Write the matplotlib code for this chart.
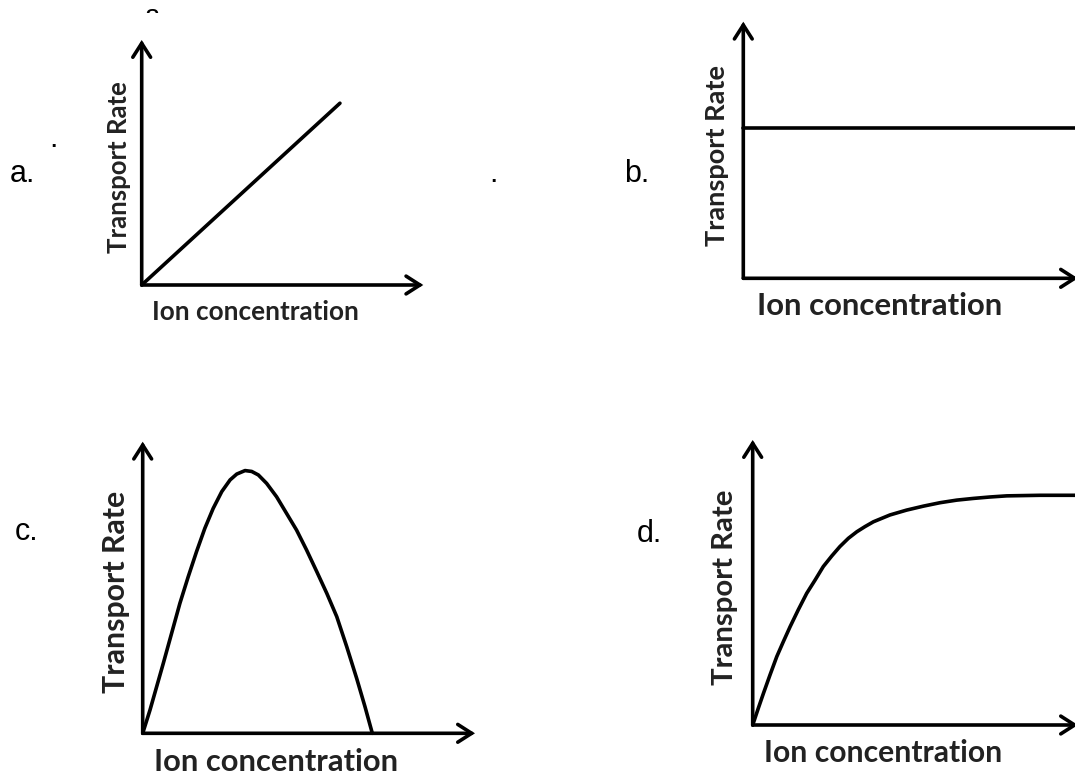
import matplotlib
matplotlib.use('Agg')
import matplotlib.pyplot as plt
from matplotlib.patches import Rectangle

W, H = 1075, 775

# curves, both axes run 0..10
a_x = [0, 7.04]
a_y = [0, 7.42]

b_x = [0, 10]
b_y = [5.85, 5.85]

c_x = [0, 0.22, 0.42, 0.62, 0.87, 1.12, 1.37, 1.62, 1.87, 2.12, 2.38,
       2.63, 2.83, 3.08, 3.28, 3.48, 3.73, 4.03, 4.33, 4.63, 4.93,
       5.24, 5.54, 5.84, 6.14, 6.44, 6.69, 6.91]
c_y = [0, 0.80, 1.60, 2.40, 3.43, 4.46, 5.37, 6.23, 7.03, 7.71, 8.29,
       8.69, 8.89, 9.01, 8.98, 8.86, 8.57, 8.11, 7.54, 6.97, 6.29,
       5.54, 4.80, 4.00, 2.97, 1.88, 0.91, 0]

d_x = [0, 0.17, 0.33, 0.53, 0.74, 0.94, 1.15, 1.40, 1.66, 1.92, 2.17,
       2.43, 2.68, 2.94, 3.20, 3.45, 3.71, 4.22, 4.73, 5.25, 5.76,
       6.27, 6.78, 7.29, 7.81, 8.32, 8.83, 10]
d_y = [0, 0.58, 1.11, 1.75, 2.40, 2.92, 3.45, 4.04, 4.62, 5.09, 5.56,
       5.93, 6.26, 6.55, 6.78, 6.96, 7.13, 7.37, 7.54, 7.68, 7.80,
       7.89, 7.95, 8.00, 8.04, 8.05, 8.06, 8.06]

letters = ['a.', 'b.', 'c.', 'd.']
ylabel = 'Transport Rate'
xlabel = 'Ion concentration'

# layout in pixels: axes box (left, top, right, bottom), letter pos,
# ylabel centre / size, xlabel centre / size
panels = [
    dict(x=a_x, y=a_y, box=(141.7, 40, 423.3, 285), let=(10, 182),
         yl=(119, 167, 18.5), xl=(255, 312, 18.8)),
    dict(x=b_x, y=b_y, box=(743.3, 21.7, 1078, 278.3), let=(624, 182),
         yl=(717, 155, 19.5), xl=(880, 306, 22.4)),
    dict(x=c_x, y=c_y, box=(142.7, 441.7, 475, 733.3), let=(15, 540),
         yl=(116, 592, 21.8), xl=(276, 762, 22.2)),
    dict(x=d_x, y=d_y, box=(752.7, 440, 1078, 725), let=(637, 542),
         yl=(725, 587, 21.2), xl=(883, 753, 21.7)),
]

LW = 2.6
TXT = '#222222'
LABEL_FONT = ['Lato', 'DejaVu Sans']
LETTER_FONT = ['Liberation Sans', 'DejaVu Sans']

fig = plt.figure(figsize=(W / 100, H / 100), dpi=100)
fig.patch.set_facecolor('white')


def fx(px):
    return px / W


def fy(py):
    return 1 - py / H


for i, p in enumerate(panels):
    left, top, right, bottom = p['box']
    ax = fig.add_axes([fx(left), fy(bottom), (right - left) / W,
                       (bottom - top) / H])
    ax.set_xlim(0, 10)
    ax.set_ylim(0, 10)
    ax.axis('off')

    arrow = dict(arrowstyle='->,head_length=0.5,head_width=0.32',
                 lw=LW, color='black', shrinkA=0, shrinkB=0,
                 mutation_scale=20, capstyle='round', joinstyle='miter')
    ax.annotate('', xy=(10, 0), xytext=(0, 0), arrowprops=arrow,
                annotation_clip=False)
    ax.annotate('', xy=(0, 10), xytext=(0, 0), arrowprops=arrow,
                annotation_clip=False)

    ax.plot(p['x'], p['y'], color='black', lw=LW, clip_on=False,
            solid_joinstyle='round', solid_capstyle='round')

    lx, ly = p['let']
    fig.text(fx(lx), fy(ly), letters[i], ha='left', va='baseline',
             fontsize=22, family=LETTER_FONT, color='black')

    yx, yy, ys = p['yl']
    fig.text(fx(yx), fy(yy), ylabel, rotation=90, ha='center',
             va='center', fontsize=ys, fontweight='bold',
             family=LABEL_FONT, color=TXT)
    xx, xy_, xs = p['xl']
    fig.text(fx(xx), fy(xy_), xlabel, ha='center', va='center',
             fontsize=xs, fontweight='bold', family=LABEL_FONT, color=TXT)

# stray dots and the cut-off letter at the top edge
fig.text(fx(49), fy(147), '.', ha='left', va='baseline', fontsize=22,
         family=LETTER_FONT, color='black')
fig.text(fx(489), fy(182), '.', ha='left', va='baseline', fontsize=22,
         family=LETTER_FONT, color='black')
t = fig.text(fx(145), fy(24), 'a', ha='left', va='baseline', fontsize=20,
             family=LETTER_FONT, color='black')
t.set_clip_path(Rectangle((0, fy(13)), 1, 1, transform=fig.transFigure))

fig.savefig('out.png', dpi=100, facecolor='white')
